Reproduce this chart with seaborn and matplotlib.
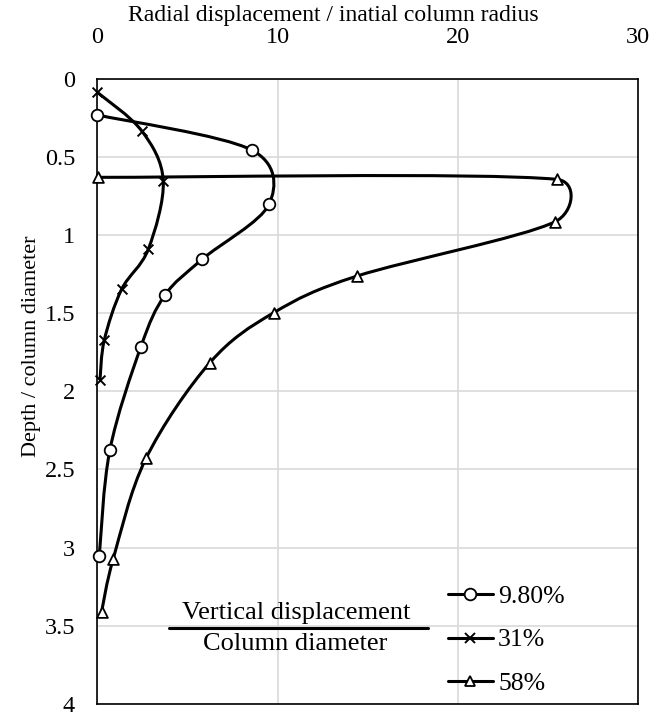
import numpy as np
import matplotlib
matplotlib.use('Agg')
import matplotlib.pyplot as plt
import seaborn as sns
from matplotlib.path import Path
from matplotlib.patches import PathPatch
from matplotlib.lines import Line2D
from matplotlib.ticker import FuncFormatter

# valores: (desplazamiento radial / radio, profundidad / diametro)
x_98 = [0.0, 8.56, 9.54, 5.82, 3.75, 2.42, 0.70, 0.11]
y_98 = [0.233, 0.457, 0.802, 1.156, 1.386, 1.715, 2.375, 3.053]

x_31 = [0.0, 2.46, 3.66, 2.83, 1.35, 0.39, 0.15]
y_31 = [0.088, 0.334, 0.653, 1.092, 1.348, 1.672, 1.928]

x_58 = [0.06, 25.5, 25.4, 14.42, 9.8, 6.25, 2.70, 0.89, 0.24]
y_58 = [0.632, 0.645, 0.916, 1.263, 1.497, 1.817, 2.43, 3.07, 3.41]

labels = ['9.80%', '31%', '58%']
x_ticks = [0, 10, 20, 30]
y_ticks = [0, 0.5, 1, 1.5, 2, 2.5, 3, 3.5, 4]

sns.set_style('white')
plt.rcParams['font.family'] = ['Liberation Serif', 'DejaVu Serif']
plt.rcParams['text.color'] = 'black'
plt.rcParams['axes.labelcolor'] = 'black'
plt.rcParams['xtick.color'] = 'black'
plt.rcParams['ytick.color'] = 'black'
FS_TICK = 17.5
FS_LEG = 18.5

fig = plt.figure(figsize=(6.52, 7.15), dpi=100)
ax = fig.add_axes([0.1492, 0.0154, 0.8293, 0.8748])

# marcadores
sns.scatterplot(x=x_98, y=y_98, marker='o', s=70, facecolor='white', edgecolor='black',
                linewidth=1.3, zorder=5, clip_on=False, ax=ax)
sns.scatterplot(x=x_31, y=y_31, marker='x', s=50, color='black',
                linewidth=1.4, zorder=5, clip_on=False, ax=ax)
sns.scatterplot(x=x_58, y=y_58, marker='^', s=60, facecolor='white', edgecolor='black',
                linewidth=1.3, zorder=5, clip_on=False, ax=ax)

ax.set_xlim(0, 30)
ax.set_ylim(4, 0)


# curva suavizada tipo Excel (Bezier con puntos de control limitados)
def excel_smooth(ax, xs, ys):
    pts = ax.transData.transform(np.column_stack([xs, ys]))
    n = len(pts)
    verts = [pts[0]]
    codes = [Path.MOVETO]
    for i in range(n - 1):
        p0 = pts[i - 1] if i > 0 else pts[i]
        p1 = pts[i]
        p2 = pts[i + 1]
        p3 = pts[i + 2] if i + 2 < n else pts[i + 1]
        d12 = np.hypot(*(p2 - p1))

        def ctrl(a, b):
            d = np.hypot(*(b - a))
            if d == 0:
                return np.zeros(2)
            f = 1 / 6 if d / 6 < d12 / 2 else d12 / (2 * d)
            return (b - a) * f

        verts += [p1 + ctrl(p0, p2), p2 - ctrl(p1, p3), p2]
        codes += [Path.CURVE4] * 3
    verts = ax.transData.inverted().transform(np.array(verts))
    return Path(verts, codes)


for xs, ys in [(x_98, y_98), (x_31, y_31), (x_58, y_58)]:
    ax.add_patch(PathPatch(excel_smooth(ax, xs, ys), facecolor='none',
                           edgecolor='black', lw=2.2, zorder=3))

# ejes
ax.xaxis.set_ticks_position('top')
ax.xaxis.set_label_position('top')
ax.set_xticks(x_ticks)
ax.set_yticks(y_ticks)
ax.yaxis.set_major_formatter(FuncFormatter(lambda v, p: '%g' % v))
ax.tick_params(axis='both', length=0, labelsize=FS_TICK)
ax.tick_params(axis='x', pad=22)
ax.tick_params(axis='y', pad=16)
ax.grid(True, color='#d9d9d9', lw=1.2)
ax.set_axisbelow(True)
for s in ax.spines.values():
    s.set_color('black')
    s.set_linewidth(1.2)

ax.set_xlabel('Radial displacement / inatial column radius', fontsize=17)
ax.xaxis.set_label_coords(0.437, 1.101)
ax.xaxis.label.set_va('center')
ax.set_ylabel('Depth / column diameter', fontsize=16)
ax.yaxis.set_label_coords(-0.122, 0.572)
ax.yaxis.label.set_va('center')

# leyenda
handles = [
    Line2D([], [], color='black', lw=2.2, marker='o', markersize=8.4,
           markerfacecolor='white', markeredgecolor='black', markeredgewidth=1.3),
    Line2D([], [], color='black', lw=2.2, marker='x', markersize=7,
           markeredgecolor='black', markeredgewidth=1.4),
    Line2D([], [], color='black', lw=2.2, marker='^', markersize=7.7,
           markerfacecolor='white', markeredgecolor='black', markeredgewidth=1.3),
]
ax.legend(handles, labels, loc='center left', bbox_to_anchor=(0.6486, 0.1023),
          frameon=False, fontsize=FS_LEG, handlelength=1.75, handletextpad=0.2,
          labelspacing=0.78, borderpad=0, borderaxespad=0)

ax.text(0.3675, 0.146, 'Vertical displacement', transform=ax.transAxes,
        ha='center', va='center', fontsize=19)
ax.plot([0.1332, 0.6123], [0.1215, 0.1215], transform=ax.transAxes, color='black', lw=2.2)
ax.text(0.3654, 0.0965, 'Column diameter', transform=ax.transAxes,
        ha='center', va='center', fontsize=19)

plt.savefig('out.png', dpi=100)
plt.close()
